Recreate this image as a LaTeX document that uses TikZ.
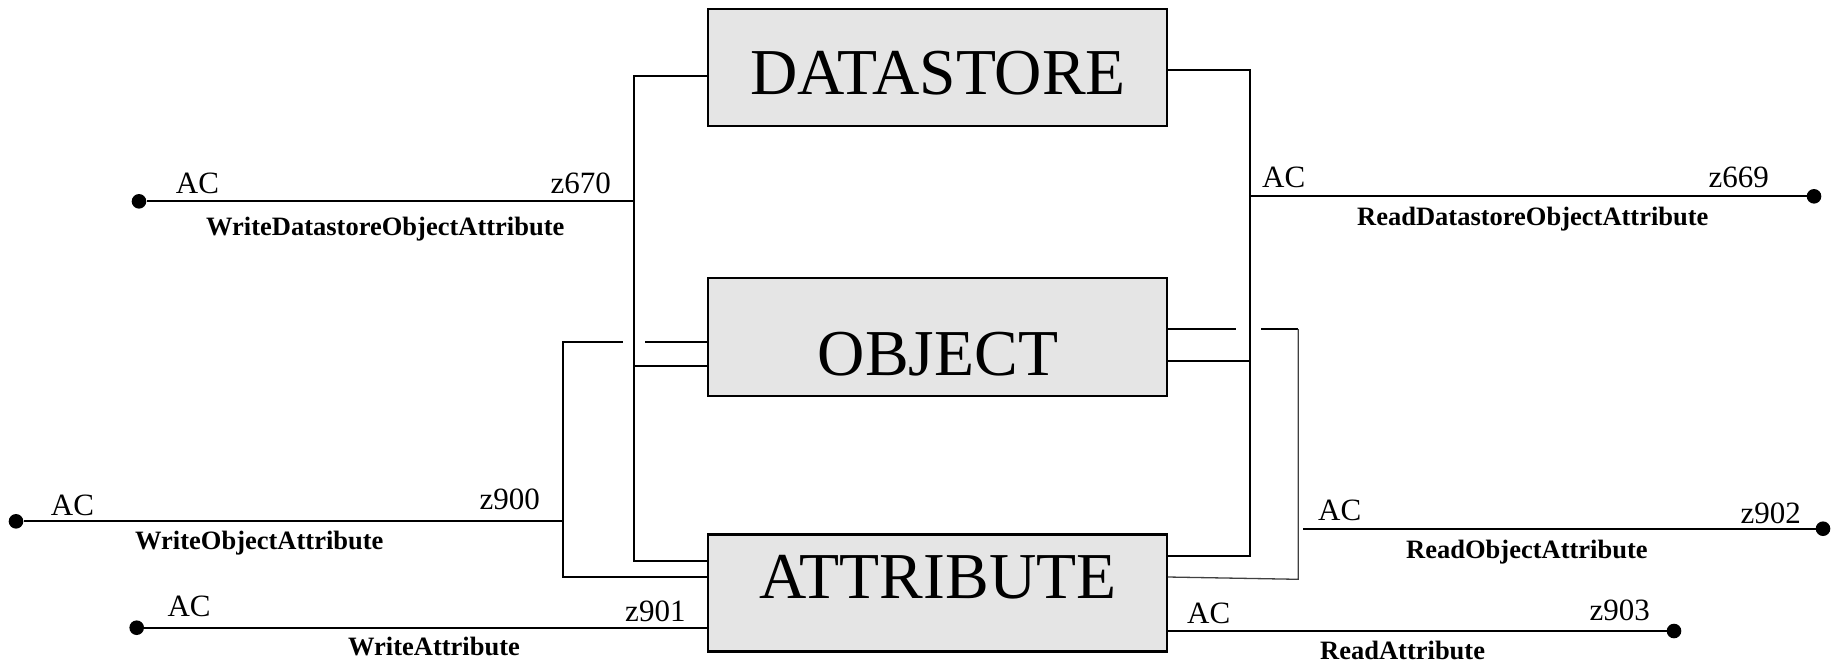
\documentclass[tikz,border=0pt]{standalone}
\usepackage{fontspec}
\setmainfont{Liberation Serif}
\usetikzlibrary{calc}
\definecolor{boxgray}{gray}{0.9}
\tikzset{
  blockbox/.style={draw, fill=boxgray, line width=2.2pt, minimum width=459pt, minimum height=117pt, inner sep=0pt},
  blocktext/.style={anchor=base, inner sep=0pt, font=\fontsize{65.5}{65.5}\selectfont},
  termdot/.style={circle, fill, inner sep=0pt, minimum size=14.6pt},
  acname/.style={inner sep=0pt, font=\fontsize{31}{31}\selectfont},
  opname/.style={anchor=base west, inner sep=0pt, font=\bfseries\fontsize{26.5}{26.5}\selectfont},
  wire/.style={line width=1.8pt},
  thinwire/.style={line width=1.3pt, black!75}
}
\begin{document}
\begin{tikzpicture}[x=1pt, y=-1pt]
  \useasboundingbox (0,0) rectangle (1831,665);

  % the three stores
  \node[blockbox] (datastore) at (937.2,67.5) {};
  \node[blockbox, minimum height=118.3pt] (object) at (937.2,336.9) {};
  \node[blockbox] (attribute) at (937.2,593) {};
  \node[blocktext] (dslabel) at (938,94.3) {DATASTORE};
  \node[blocktext] (oblabel) at (938,375) {OBJECT};
  \node[blocktext] (atlabel) at (938,598.3) {ATTRIBUTE};

  % attach points
  \coordinate (ds-w) at ([yshift=-8.5pt]datastore.west);
  \coordinate (ds-e) at ([yshift=-2.2pt]datastore.east);
  \coordinate (ob-w1) at ([yshift=-5.1pt]object.west);
  \coordinate (ob-w2) at ([yshift=-29.1pt]object.west);
  \coordinate (ob-e1) at ([yshift=7.9pt]object.east);
  \coordinate (ob-e2) at ([yshift=-24.1pt]object.east);
  \coordinate (at-w1) at ([yshift=32pt]attribute.west);
  \coordinate (at-w2) at ([yshift=16.3pt]attribute.west);
  \coordinate (at-w3) at ([yshift=-34.7pt]attribute.west);
  \coordinate (at-e1) at ([yshift=37.3pt]attribute.east);
  \coordinate (at-e2) at ([yshift=16pt]attribute.east);
  \coordinate (at-e3) at ([yshift=-38pt]attribute.east);
  \coordinate (lbus) at (633.7,0);
  \coordinate (lbrk) at (563,0);
  \coordinate (rbus) at (1249.7,0);
  \coordinate (rbrk) at (1298.3,0);

  % end points
  \node[termdot] (p670) at (139,201.3) {};
  \node[termdot] (p900) at (16,521.3) {};
  \node[termdot] (p901) at (136.7,627.7) {};
  \node[termdot] (p669) at (1814,196.3) {};
  \node[termdot] (p902) at (1823,528.7) {};
  \node[termdot] (p903) at (1674,631) {};

  % left side
  \draw[wire] (ds-w) -| (lbus |- at-w1) -- (at-w1);
  \draw[wire] (ob-w2) -- (lbus |- ob-w2);
  \draw[wire] (p670) -- (lbus |- p670);
  \draw[wire] (ob-w1) -- ($(lbus |- ob-w1)+(11,0)$);
  \draw[wire] ($(lbus |- ob-w1)+(-11,0)$) -- (lbrk |- ob-w1) -- (lbrk |- at-w2) -- (at-w2);
  \draw[wire] (p900) -- (lbrk |- p900);
  \draw[wire] (p901) -- (at-w3);

  % right side
  \draw[wire] (ds-e) -| (rbus |- at-e1) -- (at-e1);
  \draw[wire] (ob-e2) -- (rbus |- ob-e2);
  \draw[wire] (p669) -- (rbus |- p669);
  \draw[wire] (ob-e1) -- ($(rbus |- ob-e1)+(-13.5,0)$);
  \draw[wire] ($(rbus |- ob-e1)+(11.3,0)$) -- (rbrk |- ob-e1);
  \draw[thinwire] (rbrk |- ob-e1) -- ++(0,250.3) -- (at-e2);
  \draw[wire] ($(rbrk |- p902)+(5,0)$) -- (p902);
  \draw[wire] (at-e3) -- (p903);

  % labels
  \node[acname, anchor=base west] (ac670) at (175.7,193.3) {AC};
  \node[acname, anchor=base east] (z670) at (611,193.3) {z670};
  \node[opname] (wdoa) at (206,235.7) {WriteDatastoreObjectAttribute};
  \node[acname, anchor=base west] (ac900) at (50.7,515) {AC};
  \node[acname, anchor=base east] (z900) at (540,509) {z900};
  \node[opname] (woa) at (135,549) {WriteObjectAttribute};
  \node[acname, anchor=base west] (ac901) at (167.3,616.7) {AC};
  \node[acname, anchor=base east] (z901) at (685.7,621.7) {z901};
  \node[opname] (wa) at (348,655) {WriteAttribute};
  \node[acname, anchor=base west] (ac669) at (1262,187) {AC};
  \node[acname, anchor=base east] (z669) at (1769,187) {z669};
  \node[opname] (rdoa) at (1357,225.5) {ReadDatastoreObjectAttribute};
  \node[acname, anchor=base west] (ac902) at (1318,520) {AC};
  \node[acname, anchor=base east] (z902) at (1801,523) {z902};
  \node[opname] (roa) at (1406,558) {ReadObjectAttribute};
  \node[acname, anchor=base west] (ac903) at (1187,623) {AC};
  \node[acname, anchor=base east] (z903) at (1650,620) {z903};
  \node[opname] (ra) at (1320,659) {ReadAttribute};
\end{tikzpicture}
\end{document}
